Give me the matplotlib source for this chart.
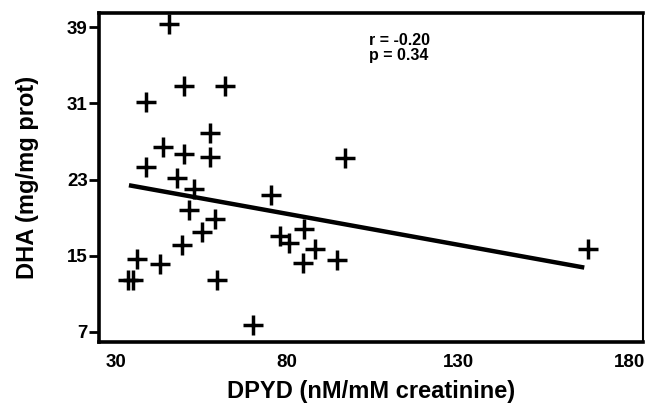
import matplotlib
matplotlib.use("Agg")
import matplotlib.pyplot as plt

# DPYD (x) and DHA (y) values
dpyd = [45.5, 38.7, 49.8, 62.0, 57.6, 43.7, 49.8, 57.6, 38.9, 47.9,
        52.7, 51.5, 59.1, 55.2, 49.3, 36.2, 43.0, 33.6, 35.0, 59.5,
        70.2, 97.1, 75.4, 85.0, 78.0, 80.6, 88.2, 94.5, 84.8, 168.1]
dha = [39.3, 31.1, 32.8, 32.8, 27.85, 26.4, 25.7, 25.4, 24.3, 23.2,
       22.0, 19.8, 18.9, 17.5, 16.1, 14.7, 14.1, 12.4, 12.4, 12.4,
       7.7, 25.3, 21.4, 17.8, 17.1, 16.3, 15.7, 14.5, 14.2, 15.7]

# regression line endpoints
fit_x = [33.8, 166.9]
fit_y = [22.4, 13.75]

xticks = [30, 80, 130, 180]
yticks = [7, 15, 23, 31, 39]
stats_text = "r = -0.20\np = 0.34"

plt.rcParams['font.family'] = ['Liberation Sans', 'DejaVu Sans']
plt.rcParams['font.weight'] = 'bold'

fig = plt.figure(figsize=(6.46, 4.05), dpi=100)
ax = fig.add_axes([0.153, 0.156, 0.842, 0.812])

ax.plot(dpyd, dha, linestyle='none', marker='+', markersize=15,
        markeredgewidth=2.5, color='black')
ax.plot(fit_x, fit_y, color='black', linewidth=3.2, solid_capstyle='butt')

ax.set_xlim(25, 184)
ax.set_ylim(5.95, 40.5)
ax.set_xticks(xticks)
ax.set_yticks(yticks)
ax.tick_params(axis='x', length=0, pad=9, labelsize=13.5)
ax.tick_params(axis='y', length=7, width=2, pad=1, labelsize=13.5, direction='out')
for lab in ax.get_xticklabels() + ax.get_yticklabels():
    lab.set_fontweight('bold')

for s in ['left', 'bottom', 'top']:
    ax.spines[s].set_linewidth(2.6)
ax.spines['right'].set_linewidth(1.5)

ax.set_xlabel("DPYD (nM/mM creatinine)", fontsize=17, fontweight='bold', labelpad=6)
ax.set_ylabel("DHA (mg/mg prot)", fontsize=17, fontweight='bold', labelpad=20)

ax.text(0.497, 0.94, stats_text, transform=ax.transAxes, fontsize=11.5,
        fontweight='bold', va='top', ha='left', linespacing=1.0)

fig.savefig("out.png", dpi=100)
